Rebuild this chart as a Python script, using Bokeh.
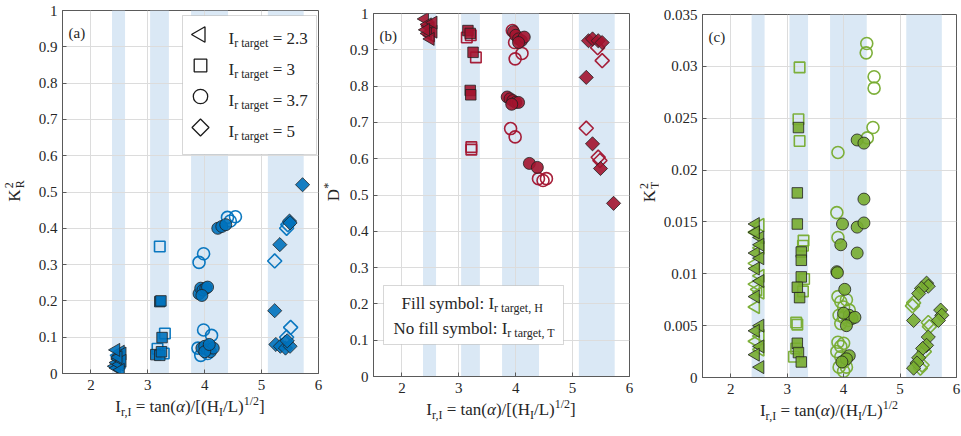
import math
from bokeh.plotting import figure
from bokeh.layouts import row, column
from bokeh.models import Range1d, FixedTicker, PrintfTickFormatter, Label, BoxAnnotation, Div
from bokeh.embed import file_html
from bokeh.resources import INLINE

# ---------------- data ----------------
x_ticks = [2, 3, 4, 5, 6]
y_ticks_ab = [0, 0.1, 0.2, 0.3, 0.4, 0.5, 0.6, 0.7, 0.8, 0.9, 1]
y_ticks_c = [0, 0.005, 0.01, 0.015, 0.02, 0.025, 0.03, 0.035]
x_lim = (1.5, 6.0)
y_lim_ab = (0.0, 1.0)
y_lim_c = (0.0, 0.035)
band_lo = [2.37, 3.04, 3.76, 5.11]
band_hi = [2.60, 3.37, 4.41, 5.74]
legend_targets = ["2.3", "3", "3.7", "5"]

# panel (a) K_R^2
a_tri_fill_x = [2.42, 2.45, 2.48, 2.50, 2.52, 2.55, 2.45, 2.50, 2.55, 2.48, 2.52, 2.44]
a_tri_fill_y = [0.020, 0.030, 0.040, 0.050, 0.060, 0.055, 0.015, 0.025, 0.035, 0.045, 0.010, 0.065]
a_tri_open_x = [2.50, 2.53, 2.47]
a_tri_open_y = [0.040, 0.030, 0.050]
a_sq_fill_x = [3.21, 3.23, 3.25, 3.14, 3.21, 3.24]
a_sq_fill_y = [0.198, 0.200, 0.099, 0.052, 0.050, 0.060]
a_sq_open_x = [3.21, 3.30, 3.17, 3.28]
a_sq_open_y = [0.350, 0.110, 0.068, 0.055]
a_circ_fill_x = [4.23, 4.30, 4.37, 3.90, 3.93, 3.97, 4.02, 4.05, 3.95, 3.95, 4.00, 4.05, 4.10, 4.15, 4.00, 4.08]
a_circ_fill_y = [0.400, 0.405, 0.410, 0.220, 0.235, 0.230, 0.235, 0.238, 0.215, 0.070, 0.075, 0.065, 0.060, 0.070, 0.060, 0.080]
a_circ_open_x = [4.40, 4.45, 4.54, 3.98, 3.90, 3.98, 4.12, 3.93, 3.88, 4.05]
a_circ_open_y = [0.430, 0.420, 0.432, 0.330, 0.306, 0.120, 0.105, 0.050, 0.070, 0.055]
a_dia_fill_x = [5.72, 5.49, 5.50, 5.32, 5.23, 5.25, 5.33, 5.42, 5.50, 5.45]
a_dia_fill_y = [0.520, 0.420, 0.415, 0.355, 0.173, 0.080, 0.075, 0.070, 0.075, 0.090]
a_dia_open_x = [5.44, 5.46, 5.23, 5.51, 5.44, 5.42]
a_dia_open_y = [0.400, 0.410, 0.310, 0.127, 0.100, 0.085]

# panel (b) D*
b_tri_fill_x = [2.40, 2.45, 2.50, 2.55, 2.45, 2.50, 2.55, 2.42]
b_tri_fill_y = [0.985, 0.970, 0.960, 0.950, 0.945, 0.930, 0.975, 0.955]
b_tri_open_x = [2.50, 2.47]
b_tri_open_y = [0.940, 0.965]
b_sq_fill_x = [3.16, 3.20, 3.25, 3.20, 3.21]
b_sq_fill_y = [0.953, 0.945, 0.893, 0.788, 0.776]
b_sq_open_x = [3.14, 3.21, 3.30, 3.22, 3.22]
b_sq_open_y = [0.934, 0.940, 0.879, 0.625, 0.632]
b_circ_fill_x = [3.96, 4.00, 4.05, 4.10, 4.15, 4.05, 3.85, 3.90, 3.95, 4.00, 4.05, 3.93, 4.24, 4.38]
b_circ_fill_y = [0.950, 0.940, 0.930, 0.925, 0.935, 0.920, 0.770, 0.765, 0.760, 0.755, 0.755, 0.750, 0.587, 0.576]
b_circ_open_x = [3.94, 3.98, 3.99, 4.11, 3.91, 3.99, 4.40, 4.48, 4.54]
b_circ_open_y = [0.953, 0.920, 0.875, 0.890, 0.683, 0.660, 0.545, 0.540, 0.545]
b_dia_fill_x = [5.28, 5.35, 5.45, 5.52, 5.24, 5.35, 5.49, 5.72]
b_dia_fill_y = [0.925, 0.930, 0.925, 0.920, 0.824, 0.641, 0.573, 0.477]
b_dia_open_x = [5.44, 5.52, 5.24, 5.45, 5.48]
b_dia_open_y = [0.906, 0.870, 0.684, 0.604, 0.595]

# panel (c) K_T^2
c_tri_fill_x = [2.44, 2.52, 2.44, 2.52, 2.44, 2.52, 2.44, 2.52, 2.44, 2.52, 2.44, 2.52, 2.44, 2.52]
c_tri_fill_y = [0.0148, 0.0135, 0.0120, 0.0115, 0.0105, 0.0093, 0.0078, 0.0050, 0.0045, 0.0030, 0.0022, 0.0010, 0.0140, 0.0128]
c_tri_open_x = [2.52, 2.44, 2.52, 2.44, 2.52, 2.44, 2.52, 2.44, 2.52, 2.44, 2.52, 2.48]
c_tri_open_y = [0.0147, 0.0140, 0.0125, 0.0110, 0.0098, 0.0090, 0.0082, 0.0068, 0.0040, 0.0035, 0.0027, 0.0085]
c_sq_fill_x = [3.20, 3.18, 3.18, 3.25, 3.25, 3.25, 3.18, 3.22, 3.18, 3.20, 3.25]
c_sq_fill_y = [0.0241, 0.0178, 0.0148, 0.0121, 0.0113, 0.0097, 0.0087, 0.0077, 0.0033, 0.0024, 0.0015]
c_sq_open_x = [3.22, 3.20, 3.22, 3.29, 3.28, 3.30, 3.28, 3.16, 3.18, 3.16, 3.12]
c_sq_open_y = [0.0299, 0.0249, 0.0228, 0.0132, 0.0127, 0.0095, 0.0083, 0.0053, 0.0051, 0.0028, 0.0020]
c_circ_fill_x = [4.24, 4.36, 4.36, 4.24, 4.36, 3.98, 3.95, 4.24, 3.88, 3.89, 4.02, 4.10, 4.15, 4.05, 4.20, 4.00, 4.10, 4.05, 3.97]
c_circ_fill_y = [0.0229, 0.0226, 0.0172, 0.0145, 0.0149, 0.0148, 0.0128, 0.0120, 0.0102, 0.0101, 0.0085, 0.0060, 0.0057, 0.0050, 0.0058, 0.0062, 0.0021, 0.0018, 0.0015]
c_circ_open_x = [4.41, 4.40, 4.54, 4.54, 4.52, 4.42, 3.90, 3.88, 3.90, 3.90, 3.95, 4.00, 4.05, 4.10, 3.92, 4.00, 4.08, 3.95,
                 3.90, 3.95, 4.00, 3.88, 3.95, 4.00, 4.05, 3.92, 4.00]
c_circ_open_y = [0.0322, 0.0313, 0.0290, 0.0279, 0.0241, 0.0231, 0.0217, 0.0159, 0.0135, 0.0078, 0.0073, 0.0068, 0.0075, 0.0065, 0.0060, 0.0058, 0.0055, 0.0052,
                 0.0034, 0.0030, 0.0033, 0.0025, 0.0020, 0.0015, 0.0010, 0.0010, 0.0006]
c_dia_fill_x = [5.47, 5.50, 5.38, 5.33, 5.24, 5.72, 5.74, 5.68, 5.50, 5.47, 5.40, 5.33, 5.30, 5.24]
c_dia_fill_y = [0.0091, 0.0088, 0.0086, 0.0081, 0.0055, 0.0065, 0.0060, 0.0055, 0.0039, 0.0031, 0.0028, 0.0019, 0.0014, 0.0009]
c_dia_open_x = [5.24, 5.22, 5.50, 5.52, 5.43, 5.36, 5.39]
c_dia_open_y = [0.0072, 0.0069, 0.0053, 0.0049, 0.0025, 0.0009, 0.0012]

# ---------------- style ----------------
FONT = "Liberation Serif"
TXT = "#262626"
AXC = "#5a5a5a"
BLUE = "#0072BD"
RED = "#A2142F"
GREEN = "#77AC30"
BAND = "#dae8f5"
FH = 363
BOT = 26
TOTAL_H = 434

TW = {' ': 250, '=': 564, 't': 278, 'a': 444, 'n': 500, '(': 333, ')': 333, '/': 278, '[': 333, ']': 333,
      'H': 722, 'L': 611, 'I': 333, 'r': 333, ',': 250, '1': 500, '2': 500, 'g': 500, 'e': 444,
      'F': 556, 'i': 278, 'l': 278, 's': 389, 'y': 500, 'm': 778, 'b': 500, 'o': 500, ':': 278, 'N': 722,
      'f': 333, '.': 250, 'T': 611}


def tw(s, size):
    return sum(TW.get(c, 500) for c in s) * size / 1000.0


class Geo:
    def __init__(self, fw, xr, yr):
        self.fw, self.xr, self.yr = fw, xr, yr

    def x(self, px):
        return self.xr[0] + px / self.fw * (self.xr[1] - self.xr[0])

    def y(self, py):
        return self.yr[1] - py / FH * (self.yr[1] - self.yr[0])


MARK = {"tri": ("triangle", 13, math.pi / 2), "sq": ("square", 10.5, 0.0),
        "circ": ("circle", 12, 0.0), "dia": ("square", 10, math.pi / 4)}


def make_fig(bl, fw, br, top, yr, yticks):
    p = figure(width=bl + fw + br, height=top + FH + BOT, x_range=Range1d(*x_lim), y_range=Range1d(*yr),
               output_backend="svg", toolbar_location=None, title=None,
               min_border_left=bl, min_border_right=br, min_border_top=top, min_border_bottom=BOT)
    for ax in (p.xaxis[0], p.yaxis[0]):
        ax.major_label_text_font = FONT
        ax.major_label_text_font_size = "15px"
        ax.major_label_text_color = TXT
        ax.axis_line_color = AXC
        ax.major_tick_line_color = AXC
        ax.major_tick_in = 4
        ax.major_tick_out = 0
        ax.minor_tick_line_color = None
        ax.formatter = PrintfTickFormatter(format="%g")
    p.xaxis.ticker = FixedTicker(ticks=x_ticks)
    p.yaxis.ticker = FixedTicker(ticks=yticks)
    p.xaxis.major_label_standoff = 6
    p.yaxis.major_label_standoff = 5
    p.grid.grid_line_color = "#dcdcdc"
    p.outline_line_color = AXC
    p.quad(left=band_lo, right=band_hi, bottom=yr[0], top=yr[1], fill_color=BAND, line_color=None, level="image")
    return p


def series(p, xs, ys, kind, color, filled):
    m, s, ang = MARK[kind]
    if filled:
        p.scatter(xs, ys, marker=m, size=s, angle=ang, fill_color=color, fill_alpha=0.9,
                  line_color="#202020", line_alpha=0.8, line_width=1)
    else:
        p.scatter(xs, ys, marker=m, size=s, angle=ang, fill_color=None, line_color=color,
                  line_width=1.6, line_alpha=0.95)


def label(p, g, px, py, text, size, align="left", baseline="alphabetic"):
    p.add_layout(Label(x=g.x(px), y=g.y(py), text=text, text_font=FONT, text_font_size=f"{size}px",
                       text_align=align, text_baseline=baseline, text_color=TXT, level="overlay"))


def rich(p, g, x, base, parts):
    for t, s, dy in parts:
        lead = len(t) - len(t.lstrip())
        label(p, g, x + tw(t[:lead], s), base + dy, t.strip(), s)
        x += tw(t, s)


def panel_data(p, color, d):
    for kind in ("tri", "sq", "circ", "dia"):
        ox, oy, fx, fy = d[kind]
        series(p, ox, oy, kind, color, False)
        series(p, fx, fy, kind, color, True)


SUBS = "font-size:12px;line-height:0;"
CSSF = f"font-family:'{FONT}',serif;color:{TXT};"


def ydiv(w, html, cy, h):
    inner = (f'<div style="width:{w}px;height:{2 * cy}px;display:flex;align-items:center;justify-content:center;">'
             f'<span style="display:inline-block;transform:rotate(-90deg);white-space:nowrap;{CSSF}'
             f'font-size:17px;line-height:17px;">{html}</span></div>')
    return Div(text=inner, width=w, height=h, margin=0)


def xdiv(total_w, left, fw, html, h):
    inner = (f'<div style="width:{fw}px;margin-left:{left}px;text-align:center;white-space:nowrap;{CSSF}'
             f'font-size:17px;line-height:16px;">{html}</div>')
    return Div(text=inner, width=total_w, height=h, margin=0)


def stack(sup, sub):
    return (f'<span style="display:inline-block;vertical-align:-4px;font-size:12px;line-height:11px;'
            f'margin-left:1px;text-align:left;">{sup}<br>{sub}</span>')


XL_AB = (f'I<sub style="{SUBS}">r,I</sub> = tan(<i>&alpha;</i>)/[(H<sub style="{SUBS}">I</sub>/L)'
         f'<sup style="{SUBS}">1/2</sup>]')
XL_C = (f'I<sub style="{SUBS}">r,I</sub> = tan(<i>&alpha;</i>)/(H<sub style="{SUBS}">I</sub>/L)'
        f'<sup style="{SUBS}">1/2</sup>')


def build_panel(p, yw, bl, fw, br, top, yhtml, xhtml, cy):
    fig_h = top + FH + BOT
    return column(row(ydiv(yw, yhtml, cy, fig_h), p, spacing=0),
                  xdiv(yw + bl + fw + br, yw + bl, fw, xhtml, TOTAL_H - fig_h), spacing=0)


# ---------------- panel (a) ----------------
YA, BLA, FWA, BRA, TA = 30, 32, 256, 5, 10
pa = make_fig(BLA, FWA, BRA, TA, y_lim_ab, y_ticks_ab)
ga = Geo(FWA, x_lim, y_lim_ab)
panel_data(pa, BLUE, {"tri": (a_tri_open_x, a_tri_open_y, a_tri_fill_x, a_tri_fill_y),
                      "sq": (a_sq_open_x, a_sq_open_y, a_sq_fill_x, a_sq_fill_y),
                      "circ": (a_circ_open_x, a_circ_open_y, a_circ_fill_x, a_circ_fill_y),
                      "dia": (a_dia_open_x, a_dia_open_y, a_dia_fill_x, a_dia_fill_y)})
label(pa, ga, 6, 22, "(a)", 15)
pa.add_layout(BoxAnnotation(left=ga.x(120), right=ga.x(254), top=ga.y(5), bottom=ga.y(144),
                            fill_color="white", fill_alpha=1.0, line_color="#7a7a7a", line_width=1))
for i, kind in enumerate(["tri", "sq", "circ", "dia"]):
    cy = [24, 55, 86, 117][i]
    m, s, ang = MARK[kind]
    pa.scatter([ga.x(138)], [ga.y(cy)], marker=m, size=s * 1.2, angle=ang, fill_color=None,
               line_color="#1a1a1a", line_width=1.3, level="overlay")
    rich(pa, ga, 166, cy + 4, [("I", 17, 0), ("r target", 12, 4), (" = " + legend_targets[i], 17, 0)])
panel_a = build_panel(pa, YA, BLA, FWA, BRA, TA, 'K' + stack('2', 'R'), XL_AB, 191)

# ---------------- panel (b) ----------------
YB, BLB, FWB, BRB, TB = 16, 34, 256, 13, 13
pb = make_fig(BLB, FWB, BRB, TB, y_lim_ab, y_ticks_ab)
gb = Geo(FWB, x_lim, y_lim_ab)
panel_data(pb, RED, {"tri": (b_tri_open_x, b_tri_open_y, b_tri_fill_x, b_tri_fill_y),
                     "sq": (b_sq_open_x, b_sq_open_y, b_sq_fill_x, b_sq_fill_y),
                     "circ": (b_circ_open_x, b_circ_open_y, b_circ_fill_x, b_circ_fill_y),
                     "dia": (b_dia_open_x, b_dia_open_y, b_dia_fill_x, b_dia_fill_y)})
label(pb, gb, 6, 22, "(b)", 15)
pb.add_layout(BoxAnnotation(left=gb.x(10), right=gb.x(190), top=gb.y(272), bottom=gb.y(331),
                            fill_color="white", fill_alpha=1.0, line_color="#7a7a7a", line_width=1))
rich(pb, gb, 28, 290, [("Fill symbol: I", 17, 0), ("r target, H", 12, 4)])
rich(pb, gb, 20, 315, [("No fill symbol: I", 17, 0), ("r target, T", 12, 4)])
panel_b = build_panel(pb, YB, BLB, FWB, BRB, TB, 'D<span style="font-size:12px;vertical-align:7px;">*</span>',
                      XL_AB, 192)

# ---------------- panel (c) ----------------
YC, BLC, FWC, BRC, TC = 16, 44, 254, 5, 14
pc = make_fig(BLC, FWC, BRC, TC, y_lim_c, y_ticks_c)
gc = Geo(FWC, x_lim, y_lim_c)
panel_data(pc, GREEN, {"tri": (c_tri_open_x, c_tri_open_y, c_tri_fill_x, c_tri_fill_y),
                       "sq": (c_sq_open_x, c_sq_open_y, c_sq_fill_x, c_sq_fill_y),
                       "circ": (c_circ_open_x, c_circ_open_y, c_circ_fill_x, c_circ_fill_y),
                       "dia": (c_dia_open_x, c_dia_open_y, c_dia_fill_x, c_dia_fill_y)})
label(pc, gc, 6, 22, "(c)", 15)
panel_c = build_panel(pc, YC, BLC, FWC, BRC, TC, 'K' + stack('2', 'T'), XL_C, 192)

layout = row(panel_a, panel_b, panel_c, spacing=0)
open("out.html", "w").write(file_html(layout, INLINE))
